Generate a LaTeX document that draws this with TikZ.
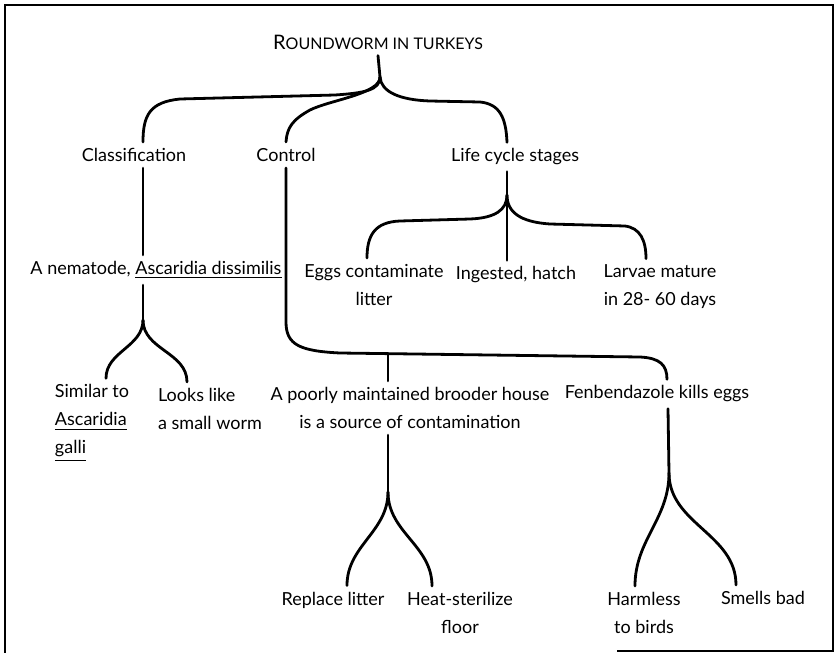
\documentclass[tikz,border=0pt]{standalone}
\usepackage{fontspec}
\setmainfont{Lato}
\usetikzlibrary{positioning}
\tikzset{
	node_txt/.style = {
		align=center,
		inner sep=3pt,
		font=\fontsize{9}{14}\selectfont
	},
	node_head/.style = {
		node_txt,
		font=\fontsize{8}{10}\selectfont
	},
	edge_br/.style = {
		line width=1.4pt,
		line cap=round
	},
	frame_ln/.style = {
		line width=0.9pt
	},
}
\begin{document}
\begin{tikzpicture}[x=0.5pt,y=-0.5pt]
\useasboundingbox (0,0) rectangle (835,653);
\draw[frame_ln] (617,651) -- (833,651) -- (833,5) -- (5,5) -- (5,653);

% headings
\node [node_head] (root) at (378,42) {{\fontsize{10}{10}\selectfont R}OUNDWORM IN TURKEYS};
\node [node_txt] (cls) at (134,155) {Classification};
\node [node_txt] (ctl) at (286,155) {Control};
\node [node_txt] (life) at (515,157) {Life cycle stages};

% second row
\node [node_txt] (nema) at (156,270) {A nematode, \underline{Ascaridia dissimilis}};
\node [node_txt] (eggs) at (374,285) {Eggs contaminate\\litter};
\node [node_txt] (ing) at (516,275) {Ingested, hatch};
\node [node_txt] (larv) at (660,287) {Larvae mature\\in 28- 60 days};

% third row
\node [node_txt, align=left] (sim) at (92,423) {Similar to\\\underline{Ascaridia}\\\underline{galli}};
\node [node_txt, align=left] (looks) at (210,409) {Looks like\\a small worm};
\node [node_txt] (brood) at (410,408) {A poorly maintained brooder house\\is a source of contamination};
\node [node_txt] (fen) at (657,394) {Fenbendazole kills eggs};

% bottom row
\node [node_txt] (repl) at (333,600) {Replace litter};
\node [node_txt] (heat) at (460,613) {Heat-sterilize\\floor};
\node [node_txt] (harm) at (644,613) {Harmless\\to birds};
\node [node_txt] (smell) at (763,598) {Smells bad};

% split points
\coordinate (s0) at (380,77);
\coordinate (s1) at (143,320);
\coordinate (s2) at (507,195);
\coordinate (j1) at (388,354);
\coordinate (s3) at (388,492);
\coordinate (s4) at (669,473);

% top brace
\draw[edge_br] (root.south) -- (s0);
\draw[edge_br] (s0) .. controls (380,90) and (365,93) .. (335,95) -- (180,99)
	.. controls (150,102) and (143,115) .. ([xshift=4.5pt]cls.north);
\draw[edge_br] (s0) .. controls (380,94) and (330,100) .. (310,110)
	.. controls (292,120) and (287,128) .. (ctl.north);
\draw[edge_br] (s0) .. controls (381,92) and (400,100) .. (430,101) -- (480,102)
	.. controls (500,104) and (506,118) .. ([xshift=-4pt]life.north);

% classification
\draw[edge_br] ([xshift=4.5pt]cls.south) -- ([xshift=-6.5pt]nema.north);
\draw[edge_br] ([xshift=-6.5pt]nema.south) -- (s1);
\draw[edge_br] (s1) to[out=-90,in=90] ([xshift=7pt]sim.north);
\draw[edge_br] (s1) to[out=-90,in=90] ([xshift=-11.5pt]looks.north);

% life cycle
\draw[edge_br] ([xshift=-4pt]life.south) -- ([xshift=-4.5pt]ing.north);
\draw[edge_br] (s2) .. controls (507,210) and (495,218) .. (470,219) -- (400,221)
	.. controls (375,222) and (367,235) .. ([xshift=-3.5pt]eggs.north);
\draw[edge_br] (s2) .. controls (507,212) and (520,222) .. (550,224) -- (625,226)
	.. controls (640,228) and (646,240) .. ([xshift=-7pt]larv.north);

% control
\draw[edge_br] (ctl.south) -- (286,322) .. controls (286,345) and (300,351) .. (340,353)
	-- (640,357) .. controls (660,358) and (667,365) .. ([xshift=5pt]fen.north);
\draw[edge_br] (j1) -- ([xshift=-11pt]brood.north);
\draw[edge_br] ([xshift=-11pt]brood.south) -- (s3);
\draw[edge_br] (s3) to[out=-90,in=90] ([xshift=7pt]repl.north);
\draw[edge_br] (s3) to[out=-90,in=90] ([xshift=-14pt]heat.north);
\draw[edge_br] ([xshift=5.5pt]fen.south) -- (s4);
\draw[edge_br] (s4) to[out=-90,in=90] ([xshift=-4.5pt]harm.north);
\draw[edge_br] (s4) to[out=-90,in=90] ([xshift=-13.5pt]smell.north);
\end{tikzpicture}
\end{document}
